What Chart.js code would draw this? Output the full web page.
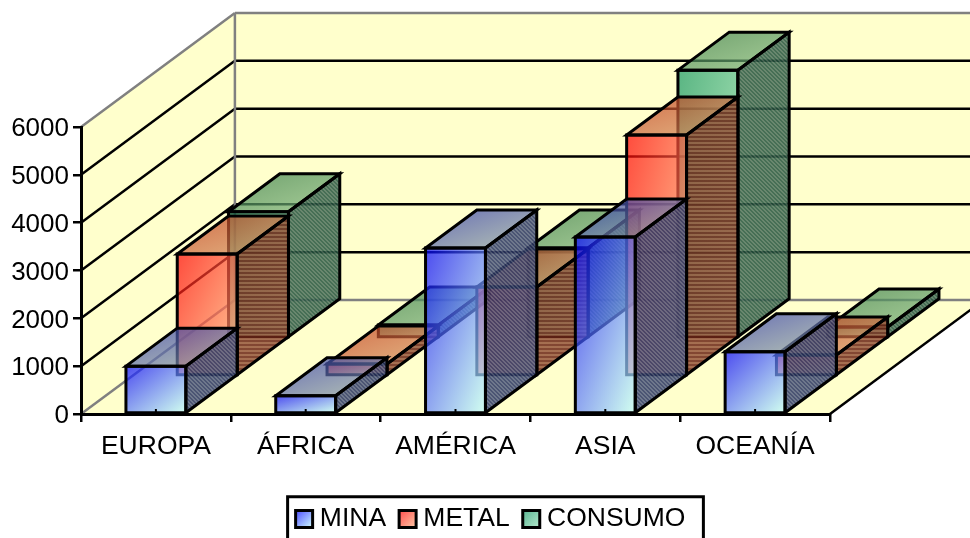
<!DOCTYPE html>
<html>
<head>
<meta charset="utf-8">
<script src="https://cdn.jsdelivr.net/npm/chart.js@4"></script>
<style>
html, body { margin: 0; padding: 0; background: #fff; overflow: hidden; }
canvas { display: block; }
</style>
</head>
<body>
<canvas id="chart" width="970" height="538"></canvas>
<script>
const categories = ['EUROPA', 'ÁFRICA', 'AMÉRICA', 'ASIA', 'OCEANÍA'];
const mina = [1000, 380, 3470, 3700, 1300];
const metal = [2550, 250, 1860, 5040, 440];
const consumo = [2640, 270, 1880, 5600, 230];
const seriesNames = ['MINA', 'METAL', 'CONSUMO'];

// fake 3d depth of one series slot, in pixels
const depthX = 51.3;
const depthY = 38;
const wallColor = '#ffffcc';
const alpha = 0.7;

const looks = [
    { from: [0, 0, 255], to: [190, 255, 255], topFrom: [40, 50, 170], topTo: [150, 170, 170], stripes: ['rgb(44,55,100)', 'rgb(85,96,129)'], dir: 'diag' },
    { from: [255, 0, 0], to: [255, 180, 130], topFrom: [190, 50, 20], topTo: [215, 150, 100], stripes: ['rgb(108,38,23)', 'rgb(149,85,59)'], dir: 'flat' },
    { from: [20, 150, 100], to: [150, 225, 185], topFrom: [50, 120, 70], topTo: [130, 185, 130], stripes: ['rgb(38,85,64)', 'rgb(79,114,94)'], dir: 'diag' }
];

function rgba(c, a) {
    return `rgba(${c[0]},${c[1]},${c[2]},${a})`;
}

function makeStripes(ctx, look) {
    const c = document.createElement('canvas');
    c.width = 4;
    c.height = 4;
    const p = c.getContext('2d');
    p.fillStyle = look.stripes[1];
    p.fillRect(0, 0, 4, 4);
    p.fillStyle = look.stripes[0];
    if (look.dir === 'flat') {
        p.fillRect(0, 0, 4, 2);
    } else {
        for (let i = 0; i < 4; i++) {
            p.fillRect(i, i, 1, 1);
            p.fillRect((i + 1) % 4, i, 1, 1);
        }
    }
    return ctx.createPattern(c, 'repeat');
}

// colour runs along (u + v) / 2 so the other two corners share the mid tone
function cornerGradient(ctx, x, y, w, h, from, to) {
    const ax = 1 / (2 * w), ay = 1 / (2 * h);
    const len = ax * ax + ay * ay;
    const g = ctx.createLinearGradient(x, y, x + ax / len, y + ay / len);
    g.addColorStop(0, rgba(from, alpha));
    g.addColorStop(1, rgba(to, alpha));
    return g;
}

function poly(ctx, pts) {
    ctx.beginPath();
    ctx.moveTo(pts[0][0], pts[0][1]);
    for (let i = 1; i < pts.length; i++) ctx.lineTo(pts[i][0], pts[i][1]);
    ctx.closePath();
}

function line(ctx, x1, y1, x2, y2) {
    ctx.beginPath();
    ctx.moveTo(x1, y1);
    ctx.lineTo(x2, y2);
    ctx.stroke();
}

const scene3d = {
    id: 'scene3d',
    afterLayout(chart) {
        // legend sits a bit right of the canvas centre in the original
        chart.legend.left += 11;
    },
    beforeDraw(chart) {
        const { ctx, chartArea: a } = chart;
        const y = chart.scales.y;
        const dx = depthX * 3, dy = depthY * 3;
        const zero = y.getPixelForValue(0);
        const top = y.getPixelForValue(y.max);
        ctx.save();
        ctx.fillStyle = wallColor;
        poly(ctx, [[a.left, zero], [a.right, zero], [a.right + dx, zero - dy], [a.left + dx, zero - dy]]);
        ctx.fill();
        poly(ctx, [[a.left, zero], [a.left + dx, zero - dy], [a.left + dx, top - dy], [a.left, top]]);
        ctx.fill();
        ctx.fillRect(a.left + dx, top - dy, a.right - a.left, zero - top);

        ctx.lineWidth = 2.5;
        ctx.strokeStyle = '#000';
        y.ticks.forEach(t => {
            if (t.value === 0 || t.value === y.max) return;
            const py = y.getPixelForValue(t.value);
            line(ctx, a.left, py, a.left + dx, py - dy);
            line(ctx, a.left + dx, py - dy, a.right + dx, py - dy);
        });
        line(ctx, a.right, zero, a.right + dx, zero - dy);

        ctx.strokeStyle = '#808080';
        line(ctx, a.left, top, a.left + dx, top - dy);
        line(ctx, a.left + dx, top - dy, a.right + dx, top - dy);
        line(ctx, a.left, zero, a.left + dx, zero - dy);
        line(ctx, a.left + dx, top - dy, a.left + dx, zero - dy);
        line(ctx, a.left + dx, zero - dy, a.right + dx, zero - dy);
        ctx.restore();
    },
    afterDatasetsDraw(chart) {
        const { ctx } = chart;
        ctx.save();
        ctx.lineJoin = 'miter';
        for (let s = 2; s >= 0; s--) {
            const look = looks[s];
            const pattern = makeStripes(ctx, look);
            const ox = depthX * s, oy = -depthY * s;
            chart.getDatasetMeta(s).data.forEach(bar => {
                const l = bar.x - bar.width / 2 + ox, r = bar.x + bar.width / 2 + ox;
                const t = bar.y + oy, b = bar.base + oy;
                const top = [[l, t], [r, t], [r + depthX, t - depthY], [l + depthX, t - depthY]];
                const side = [[r, t], [r + depthX, t - depthY], [r + depthX, b - depthY], [r, b]];
                const front = [[l, t], [r, t], [r, b], [l, b]];

                ctx.fillStyle = cornerGradient(ctx, l, t - depthY, r + depthX - l, depthY, look.topFrom, look.topTo);
                poly(ctx, top);
                ctx.fill();

                ctx.globalAlpha = 0.85;
                ctx.fillStyle = pattern;
                poly(ctx, side);
                ctx.fill();
                ctx.globalAlpha = 1;

                ctx.fillStyle = cornerGradient(ctx, l, t, r - l, b - t, look.from, look.to);
                poly(ctx, front);
                ctx.fill();

                ctx.lineWidth = 3;
                ctx.strokeStyle = '#000';
                [top, side, front].forEach(face => {
                    poly(ctx, face);
                    ctx.stroke();
                });
            });
        }
        ctx.restore();
    },
    afterDraw(chart) {
        const { ctx, legend } = chart;
        const x = chart.scales.x, zero = chart.scales.y.getPixelForValue(0);
        ctx.save();
        // small ticks that point up at each category centre
        ctx.strokeStyle = '#000';
        ctx.lineWidth = 2;
        categories.forEach((c, i) => {
            const px = x.getPixelForValue(i);
            line(ctx, px, zero, px, zero - 5);
        });
        // legend frame and swatches
        const hit = legend.legendHitBoxes;
        const last = hit[hit.length - 1];
        const frameTop = hit[0].top - 9;
        ctx.lineWidth = 3;
        ctx.strokeRect(hit[0].left - 8, frameTop, last.left + last.width + 26 - hit[0].left, 60);
        hit.forEach((h, i) => {
            const look = looks[i];
            const sy = h.top + h.height / 2 - 8.5;
            ctx.fillStyle = cornerGradient(ctx, h.left, sy, 17, 17, look.from, look.to);
            ctx.fillRect(h.left, sy, 17, 17);
            ctx.strokeRect(h.left, sy, 17, 17);
        });
        ctx.restore();
    }
};

const textFont = { family: '"Liberation Sans", Arial, sans-serif', size: 26.5 };

new Chart(document.getElementById('chart'), {
    type: 'bar',
    data: {
        labels: categories,
        datasets: [mina, metal, consumo].map((values, i) => ({
            label: seriesNames[i],
            data: values,
            backgroundColor: 'transparent',
            borderWidth: 0
        }))
    },
    options: {
        responsive: false,
        animation: false,
        devicePixelRatio: 1,
        grouped: false,
        barPercentage: 0.4,
        categoryPercentage: 1,
        layout: { padding: { left: 0, top: 127, right: 0, bottom: -4.25 } },
        plugins: {
            tooltip: { enabled: false },
            legend: {
                position: 'bottom',
                labels: {
                    font: textFont,
                    color: '#000',
                    boxWidth: 11,
                    boxHeight: 16,
                    padding: 13,
                    generateLabels: chart => chart.data.datasets.map((d, i) => ({
                        text: d.label,
                        datasetIndex: i,
                        fillStyle: 'transparent',
                        strokeStyle: 'transparent',
                        lineWidth: 0
                    }))
                }
            }
        },
        scales: {
            x: {
                afterFit: s => { s.height = 78.75; },
                grid: { drawOnChartArea: false, color: '#000', lineWidth: 2.5, tickLength: 8 },
                border: { color: '#000', width: 3 },
                ticks: { font: textFont, color: '#000', padding: 9, maxRotation: 0 }
            },
            y: {
                min: 0,
                max: 6000,
                afterFit: s => { s.width = 81; },
                grid: { drawOnChartArea: false, color: '#000', lineWidth: 2.5, tickLength: 8 },
                border: { color: '#000', width: 3 },
                ticks: { font: { family: textFont.family, size: 26 }, color: '#000', stepSize: 1000, padding: 4, labelOffset: 2, callback: v => String(v) }
            },
            // only reserves the room the depth needs on the right
            yDepth: {
                position: 'right',
                afterFit: s => { s.width = 140; },
                grid: { display: false },
                border: { display: false },
                ticks: { display: false }
            }
        }
    },
    plugins: [scene3d]
});
</script>
</body>
</html>
